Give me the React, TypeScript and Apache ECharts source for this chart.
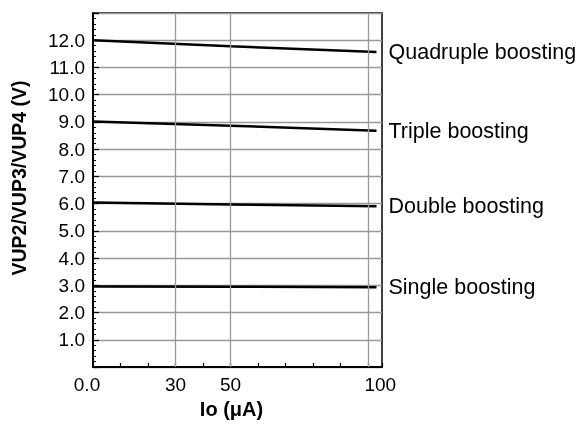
import React, { useEffect, useRef } from "react";
import * as echarts from "echarts";

const ioValues = [0, 50, 103];
const quadruple = [12.0, 11.78, 11.57];
const triple = [9.02, 8.86, 8.68];
const double = [6.04, 5.97, 5.9];
const single = [2.96, 2.95, 2.93];
const seriesNames = ["Quadruple boosting", "Triple boosting", "Double boosting", "Single boosting"];
const xTickLabels = [0, 30, 50, 100];
const xGridValues = [30, 50, 100];

const FONT = "Liberation Sans, Arial, sans-serif";

export default function App() {
  const ref = useRef<HTMLDivElement>(null);
  useEffect(() => {
    if (!ref.current) return;
    const chart = echarts.init(ref.current, null, { renderer: "svg" });
    const all = [quadruple, triple, double, single];
    const lineSeries = all.map((vals, k) => ({
      name: seriesNames[k],
      type: "line",
      z: 3,
      showSymbol: false,
      symbol: "none",
      lineStyle: { color: "#000", width: 2.5 },
      data: ioValues.map((x, i) => [x, vals[i]]),
      endLabel: {
        show: true,
        formatter: "{a}",
        distance: 12,
        fontSize: 21.5,
        color: "#000",
        fontFamily: FONT,
      },
    }));
    chart.setOption({
      animation: false,
      textStyle: { fontFamily: FONT },
      grid: {
        left: 93,
        right: 198,
        top: 13,
        bottom: 54,
        show: true,
        borderColor: "#000",
        borderWidth: 1.5,
      },
      xAxis: {
        type: "value",
        min: 0,
        max: 105,
        interval: 10,
        name: "Io (μA)",
        nameLocation: "middle",
        nameGap: 32,
        nameTextStyle: { fontSize: 20, fontWeight: "bold", color: "#000", fontFamily: FONT, padding: [0, 12, 0, 0] },
        axisLine: { show: true, lineStyle: { color: "#000", width: 2 } },
        axisTick: { show: true, inside: true, length: 4, lineStyle: { color: "#000", width: 1.2 } },
        axisLabel: {
          customValues: xTickLabels,
          margin: 8,
          fontSize: 19,
          color: "#000",
          fontFamily: FONT,
          formatter: (v: number) => (v === 0 ? "{l|0.0}" : v === 100 ? "{r|100}" : String(v)),
          rich: {
            l: { fontSize: 19, color: "#000", fontFamily: FONT, padding: [0, 12, 0, 0] },
            r: { fontSize: 19, color: "#000", fontFamily: FONT, padding: [0, 0, 0, 24] },
          },
        },
        splitLine: { show: false },
      },
      yAxis: {
        type: "value",
        min: 0,
        max: 13,
        interval: 1,
        name: "VUP2/VUP3/VUP4 (V)",
        nameLocation: "middle",
        nameGap: 64,
        nameTextStyle: { fontSize: 19.5, fontWeight: "bold", color: "#000", fontFamily: FONT, padding: [0, 0, 0, 24] },
        axisLine: { show: true, lineStyle: { color: "#000", width: 2 } },
        axisTick: { show: true, inside: true, length: 6, lineStyle: { color: "#000", width: 1.2 } },
        minorTick: { show: true, splitNumber: 5, length: 3, lineStyle: { color: "#000", width: 1 } },
        axisLabel: {
          margin: 8,
          fontSize: 19,
          color: "#000",
          fontFamily: FONT,
          formatter: (v: number) => (v === 0 || v === 13 ? "" : v.toFixed(1)),
        },
        splitLine: { show: true, lineStyle: { color: "#999", width: 1.3 } },
      },
      series: [
        {
          type: "line",
          z: 1,
          data: [],
          silent: true,
          markLine: {
            silent: true,
            symbol: ["none", "none"],
            label: { show: false },
            lineStyle: { color: "#999", width: 1.3, type: "solid" },
            data: xGridValues.map((v) => ({ xAxis: v })),
          },
        },
        ...lineSeries,
      ],
    });
    return () => chart.dispose();
  }, []);
  return <div ref={ref} style={{ position: "fixed", left: 0, top: 0, width: 580, height: 424 }} />;
}
